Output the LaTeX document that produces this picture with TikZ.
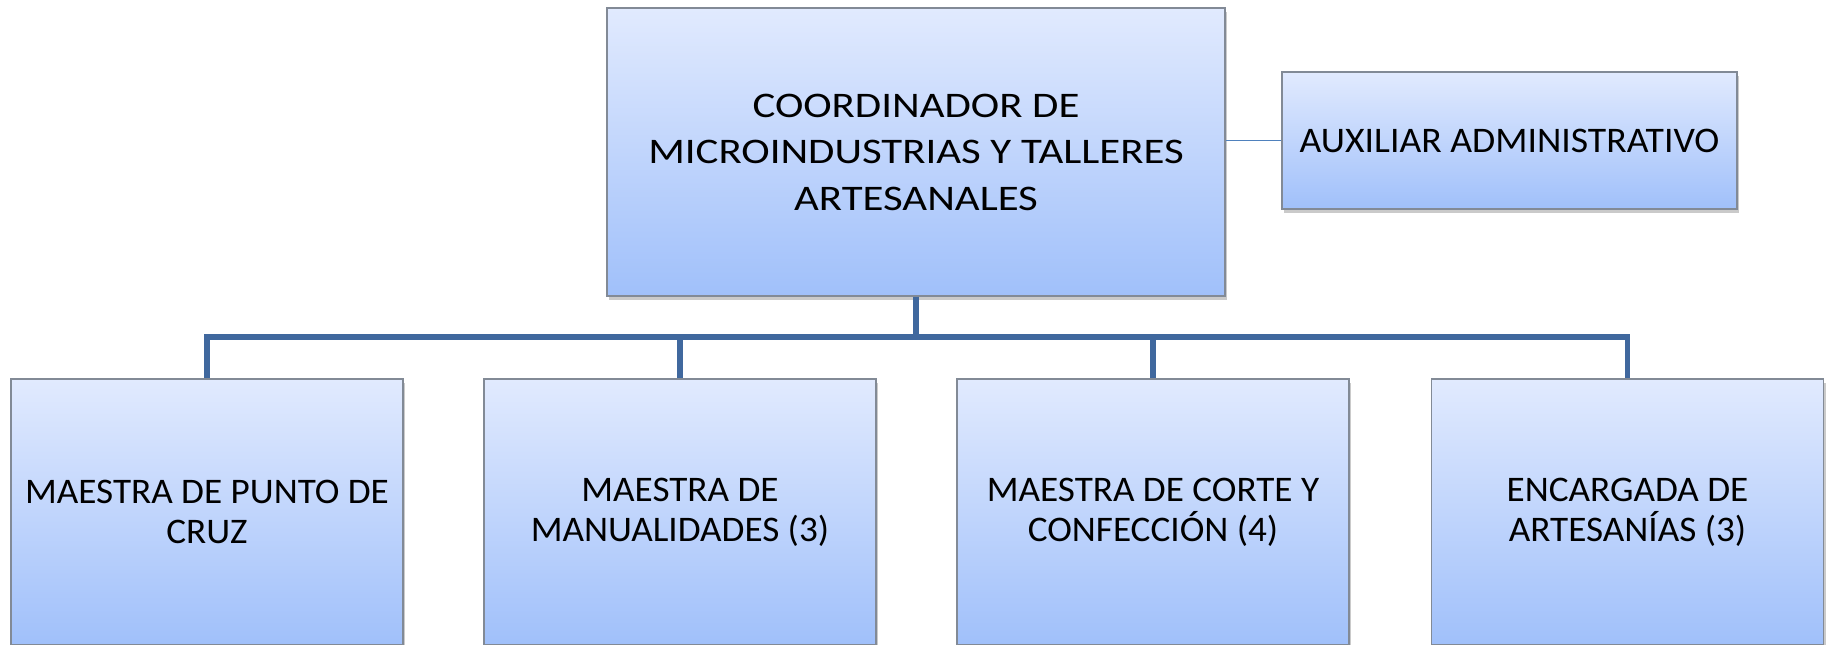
\documentclass[tikz,border=0pt]{standalone}
\usepackage{fontspec}
\setmainfont{Carlito}
\newfontfamily\topfont[FakeStretch=1.19]{Carlito}
\newfontfamily\auxfont[FakeStretch=1.047]{Carlito}
\newfontfamily\childfont[FakeStretch=1.033]{Carlito}
\usetikzlibrary{shadows}
\definecolor{boxtop}{RGB}{225,234,254}
\definecolor{boxbot}{RGB}{160,192,250}
\definecolor{boxedge}{RGB}{130,138,150}
\definecolor{busblue}{RGB}{64,104,158}
\definecolor{thinblue}{RGB}{79,129,189}
\tikzset{
  orgbox/.style={draw=boxedge, line width=0.6pt, top color=boxtop, bottom color=boxbot,
    align=center, inner sep=2pt, text=black,
    drop shadow={shadow xshift=1pt, shadow yshift=-1.8pt, opacity=0.35, fill=black!60}},
  bigbox/.style={orgbox, minimum width=309pt, minimum height=144pt, font=\topfont\fontsize{18}{23.25}\selectfont},
  auxbox/.style={orgbox, minimum width=227.5pt, minimum height=68.5pt, font=\auxfont\fontsize{18}{21}\selectfont},
  childbox/.style={orgbox, minimum width=196pt, minimum height=133pt, font=\childfont\fontsize{18}{20}\selectfont},
  bus/.style={draw=busblue, line width=2.7pt},
  thin/.style={draw=thinblue, line width=0.8pt}
}
\begin{document}
\begin{tikzpicture}[x=0.5pt, y=-0.5pt]
\useasboundingbox (0,0) rectangle (1827,644);
\node[bigbox] (top) at (916,152) {COORDINADOR DE\\MICROINDUSTRIAS Y TALLERES\\ARTESANALES};
\node[auxbox] (aux) at (1509.5,140.5) {AUXILIAR ADMINISTRATIVO};
\node[childbox] (c1) at (207,512) {MAESTRA DE PUNTO DE\\CRUZ};
\node[childbox] (c2) at (680,512) {MAESTRA DE\\MANUALIDADES (3)};
\node[childbox] (c3) at (1153,512) {MAESTRA DE CORTE Y\\CONFECCIÓN (4)};
\node[childbox] (c4) at (1627.5,512) {ENCARGADA DE\\ARTESANÍAS (3)};
\coordinate (bus) at (916,337);
\draw[bus] (top.south) -- (bus);
\draw[bus] (bus) -| (c1.north);
\draw[bus] (bus) -| (c2.north);
\draw[bus] (bus) -| (c3.north);
\draw[bus] (bus) -| (c4.north);
\draw[thin] (aux.west) -- (aux.west -| top.east);
\end{tikzpicture}
\end{document}
